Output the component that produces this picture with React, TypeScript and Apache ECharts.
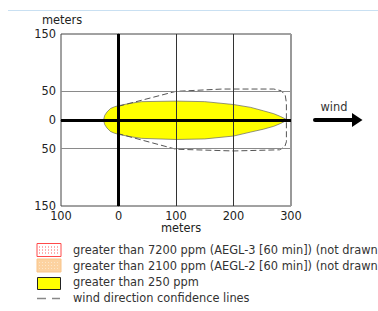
import React, { useEffect, useRef } from "react";
import * as echarts from "echarts";

// x ticks (meters downwind) and y ticks (meters crosswind)
const xTickValues = [-100, 0, 100, 200, 300];
const yTickValues = [-150, -50, 0, 50, 150];

// threat zone (> 250 ppm) outline, meters
const plumeX = [-26, -24, -20, -14, -7, 0, 20, 40, 100, 150, 200, 230, 252, 270, 282, 294,
  282, 270, 252, 230, 200, 150, 100, 40, 20, 0, -7, -14, -20, -24];
const plumeY = [0, 8, 14, 20, 23, 25, 29, 32, 33, 32, 27, 22, 16, 11, 6, 0,
  -6, -11, -16, -21, -28, -33, -34, -32, -29, -25, -23, -20, -14, -8];

// wind direction confidence lines, meters
const confX = [0, 100, 180, 270, 283, 290, 292, 292, 289, 280, 200, 100, 0];
const confY = [24, 50, 54, 54, 51, 43, 30, -38, -47, -52, -54, -51, -24];

const legendLabels = [
  "greater than 7200 ppm (AEGL-3 [60 min]) (not drawn)",
  "greater than 2100 ppm (AEGL-2 [60 min]) (not drawn)",
  "greater than 250 ppm",
  "wind direction confidence lines",
];

const FONT = "DejaVu Sans";
const FS = 11.4;

export default function App() {
  const ref = useRef<HTMLDivElement>(null);
  useEffect(() => {
    if (!ref.current) return;
    const chart = echarts.init(ref.current, null, { renderer: "svg" });
    const rowY = [250, 265.5, 281.5, 298];
    const legendGraphics: any[] = [];
    // swatch 1: red dotted
    legendGraphics.push({
      type: "rect", shape: { x: 37, y: 243.5, width: 24, height: 13 },
      style: { fill: "#fff", stroke: "#ff4a4a", lineWidth: 1 },
    });
    [247, 250, 253].forEach((yy) =>
      legendGraphics.push({
        type: "line", shape: { x1: 39, y1: yy, x2: 59, y2: yy },
        style: { stroke: "#ff5a5a", lineWidth: 1, lineDash: [1, 2] },
      })
    );
    // swatch 2: orange dotted
    legendGraphics.push({
      type: "rect", shape: { x: 37, y: 259, width: 24, height: 13 },
      style: { fill: "#fcd2a0", stroke: "#f9c48a", lineWidth: 1 },
    });
    [262.5, 265.5, 268.5].forEach((yy) =>
      legendGraphics.push({
        type: "line", shape: { x1: 39, y1: yy, x2: 59, y2: yy },
        style: { stroke: "#fde6c8", lineWidth: 1, lineDash: [1, 2] },
      })
    );
    // swatch 3: yellow
    legendGraphics.push({
      type: "rect", shape: { x: 37.5, y: 277.5, width: 23, height: 12 },
      style: { fill: "#ffff00", stroke: "#222", lineWidth: 1 },
    });
    // swatch 4: dashes
    legendGraphics.push({
      type: "line", shape: { x1: 37, y1: 298.5, x2: 46, y2: 298.5 },
      style: { stroke: "#888", lineWidth: 1.5 },
    });
    legendGraphics.push({
      type: "line", shape: { x1: 52, y1: 298.5, x2: 60, y2: 298.5 },
      style: { stroke: "#888", lineWidth: 1.5 },
    });
    legendLabels.forEach((t, i) =>
      legendGraphics.push({
        type: "text", x: 73, y: rowY[i],
        style: { text: t, font: `${FS}px '${FONT}'`, fill: "#333", verticalAlign: "middle", align: "left" },
      })
    );

    const lineMark = (axis: "xAxis" | "yAxis", v: number, color: string, width: number) => ({
      [axis]: v,
      lineStyle: { color, width, type: "solid" },
    });

    chart.setOption({
      animation: false,
      grid: {
        left: 61, top: 34, width: 230, height: 172,
        show: true, borderColor: "#444", borderWidth: 1, backgroundColor: "transparent",
      },
      xAxis: {
        type: "value", min: -100, max: 300, interval: 100,
        axisLine: { show: true, lineStyle: { color: "#444", width: 1 } },
        axisTick: { show: false },
        splitLine: { show: false },
        axisLabel: {
          margin: 4, color: "#222", fontSize: FS, fontFamily: FONT,
          formatter: (v: number) => (xTickValues.includes(v) ? String(Math.abs(v)) : ""),
        },
      },
      yAxis: {
        type: "value", min: -150, max: 150, interval: 50,
        axisLine: { show: true, lineStyle: { color: "#444", width: 1 } },
        axisTick: { show: false },
        splitLine: { show: false },
        axisLabel: {
          margin: 5, color: "#222", fontSize: FS, fontFamily: FONT,
          formatter: (v: number) => (yTickValues.includes(v) ? String(Math.abs(v)) : ""),
        },
      },
      series: [
        {
          type: "custom",
          z: 1,
          silent: true,
          data: [[0, 0]],
          renderItem: (_p: any, api: any) => ({
            type: "polygon",
            shape: { points: plumeX.map((x, i) => api.coord([x, plumeY[i]])) },
            style: { fill: "#ffff00", stroke: "#666", lineWidth: 0.7 },
          }),
        },
        {
          type: "line",
          z: 2,
          silent: true,
          symbol: "none",
          data: confX.map((x, i) => [x, confY[i]]),
          lineStyle: { color: "#555", width: 1, type: [6, 3] },
        },
        {
          type: "line",
          z: 3,
          silent: true,
          data: [],
          markLine: {
            silent: true,
            symbol: ["none", "none"],
            label: { show: false },
            data: [
              lineMark("yAxis", 50, "#8a8a8a", 1.2),
              lineMark("yAxis", -50, "#8a8a8a", 1.2),
              lineMark("xAxis", 100, "#333", 1),
              lineMark("xAxis", 200, "#333", 1),
              lineMark("xAxis", 300, "#999", 2),
              lineMark("xAxis", 0, "#000", 3),
              lineMark("yAxis", 0, "#000", 3),
            ],
          },
        },
      ],
      graphic: [
        {
          type: "line", shape: { x1: 8, y1: 10.5, x2: 378, y2: 10.5 },
          style: { stroke: "#c9e0f2", lineWidth: 1 },
        },
        {
          type: "text", x: 62, y: 20,
          style: { text: "meters", font: `${FS}px '${FONT}'`, fill: "#222", align: "center", verticalAlign: "middle" },
        },
        {
          type: "text", x: 181, y: 228,
          style: { text: "meters", font: `${FS}px '${FONT}'`, fill: "#222", align: "center", verticalAlign: "middle" },
        },
        {
          type: "text", x: 334, y: 107,
          style: { text: "wind", font: `${FS}px '${FONT}'`, fill: "#333", align: "center", verticalAlign: "middle" },
        },
        {
          type: "line", shape: { x1: 315, y1: 120, x2: 354, y2: 120 },
          style: { stroke: "#000", lineWidth: 4, lineCap: "round" },
        },
        {
          type: "polygon", shape: { points: [[352, 113], [362.5, 120], [352, 127]] },
          style: { fill: "#000" },
        },
        ...legendGraphics,
      ],
    });
    return () => chart.dispose();
  }, []);
  return (
    <div
      ref={ref}
      style={{ position: "absolute", left: 0, top: 0, width: 378, height: 311 }}
    />
  );
}
